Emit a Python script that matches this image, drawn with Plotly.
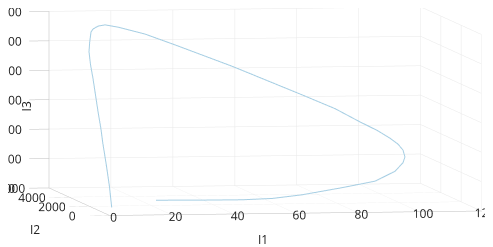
import plotly.graph_objects as go

# Trajectory values
I1 = [22.81, 37.83, 50.70, 60.52, 70.34, 83.53, 94.48, 101.24, 104.15, 104.96,
      104.48, 103.03, 100.63, 96.61, 91.30, 83.59, 73.30, 62.37, 51.44, 43.56,
      33.11, 23.46, 14.61, 10.26, 7.85, 6.07, 5.26, 4.52, 3.96, 3.95,
      4.26, 4.57, 4.71, 5.02, 5.00, 5.14, 5.18, 4.93]
I2 = [2400, 2400, 2400, 2450, 2500, 2600, 2700, 2800, 2900, 2950,
      3000, 3050, 3100, 3150, 3200, 3300, 3400, 3500, 3600, 3650,
      3700, 3700, 3650, 3600, 3550, 3500, 3450, 3350, 3250, 3100,
      2950, 2750, 2600, 2400, 2200, 1900, 1600, 1300]
I3 = [11.5, 10.0, 9.4, 12.0, 22.4, 43.3, 62.4, 93.4, 120.5, 139.7,
      162.4, 181.9, 201.4, 227.9, 256.2, 300.7, 347.2, 395.5, 443.8, 475.8,
      518.1, 556.0, 581.3, 590.3, 587.1, 578.1, 568.9, 537.2, 505.3, 464.2,
      419.7, 356.0, 314.8, 257.8, 210.7, 141.9, 73.0, 6.5]

x_range = [0, 120]
y_range = [0, 6000]
z_range = [0, 600]
axis_titles = ["I1", "I2", "I3"]

fig = go.Figure(go.Scatter3d(
    x=I1, y=I2, z=I3, mode="lines",
    line=dict(color="#a6cee3", width=2),
    showlegend=False,
))

common = dict(
    showbackground=False,
    gridcolor="rgb(232,232,232)",
    showline=True,
    linecolor="rgb(190,190,190)",
    ticks="outside",
    tickcolor="rgb(190,190,190)",
    tickangle=0,
    zeroline=False,
    showspikes=False,
    title=dict(text=""),
    tickfont=dict(family="Open Sans", size=12, color="#222"),
)

D = 8.0
dx, dy, dz = -0.1604, -0.9842, 0.0741
S = 3.05
cx, cy, cz = -0.085, 0.014, -0.165

fig.update_layout(
    template="none",
    width=493, height=247,
    margin=dict(l=0, r=0, t=0, b=0),
    paper_bgcolor="white",
    font=dict(family="Open Sans", size=12, color="#222"),
    scene=dict(
        xaxis=dict(range=x_range, dtick=20, ticklen=20, **common),
        yaxis=dict(range=y_range, dtick=2000, ticklen=6, **common),
        zaxis=dict(range=z_range, dtick=100, ticklen=4, **common),
        aspectmode="manual",
        aspectratio=dict(x=S, y=S, z=0.47 * S),
        camera=dict(
            projection=dict(type="orthographic"),
            eye=dict(x=cx + dx * D, y=cy + dy * D, z=cz + dz * D),
            up=dict(x=0, y=0, z=1),
            center=dict(x=cx, y=cy, z=cz),
        ),
    ),
    annotations=[
        dict(text=axis_titles[0], xref="paper", yref="paper", x=0.517, y=0.02,
             showarrow=False, font=dict(size=12, color="#222")),
        dict(text=axis_titles[1], xref="paper", yref="paper", x=0.041, y=0.06,
             showarrow=False, font=dict(size=12, color="#222")),
        dict(text=axis_titles[2], xref="paper", yref="paper", x=0.016, y=0.603,
             showarrow=False, textangle=-90, font=dict(size=12, color="#222")),
    ],
)

fig.write_html("out.html")
